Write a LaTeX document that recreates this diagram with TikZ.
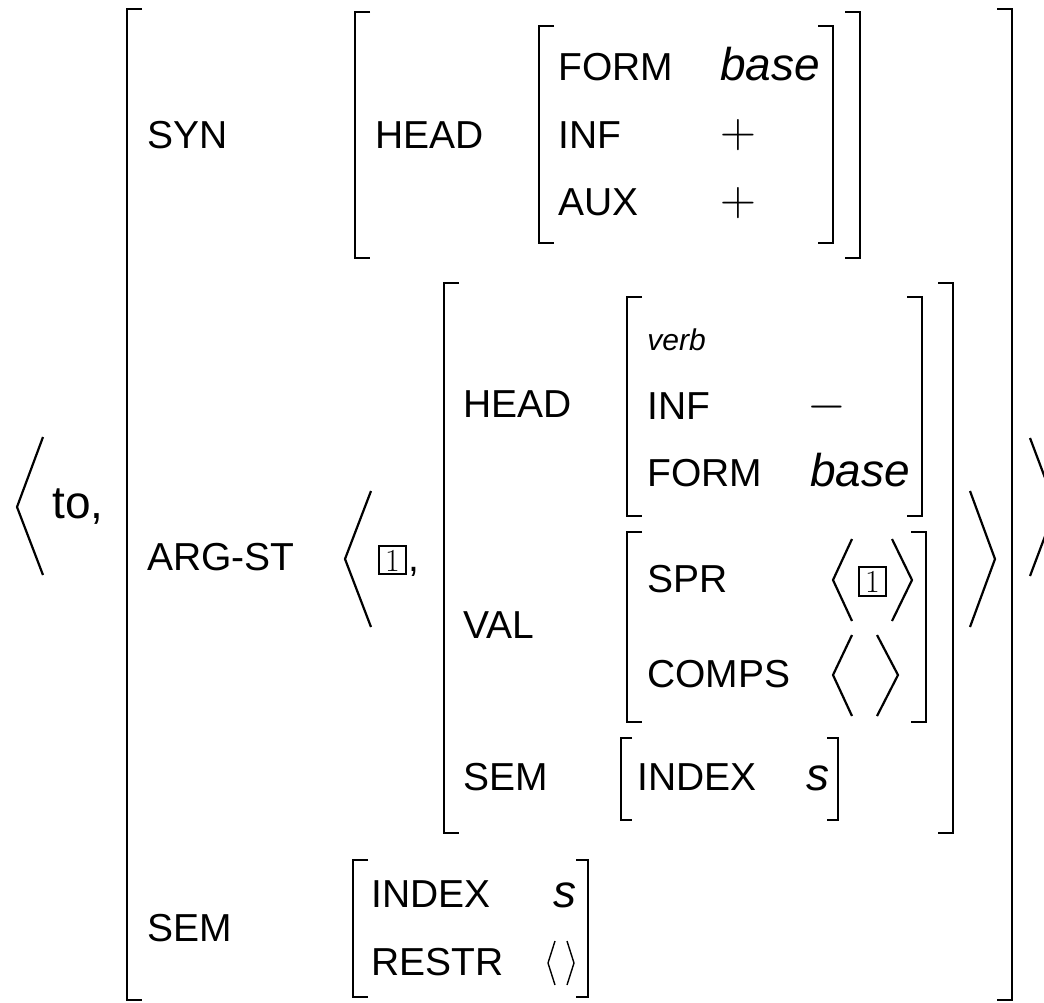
\documentclass[tikz,border=0pt]{standalone}
\usepackage{fontspec}
\setmainfont{Liberation Sans}
\newfontfamily\lmrfont{Latin Modern Roman}
\tikzset{
  lab/.style={anchor=base west, inner sep=0pt, font=\fontsize{19.5}{21}\selectfont},
  valit/.style={anchor=base west, inner sep=0pt, font=\fontsize{23}{25}\selectfont\itshape},
  valup/.style={anchor=base west, inner sep=0pt, font=\fontsize{23}{25}\selectfont},
  typ/.style={anchor=base west, inner sep=0pt, font=\fontsize{15}{16}\selectfont\itshape},
  sym/.style={anchor=center, inner sep=0pt, font=\fontsize{23}{25}\selectfont},
  tagdigit/.style={anchor=center, inner sep=0pt, font=\fontsize{16}{17}\selectfont\lmrfont},
  brk/.style={line width=1.4pt, line join=miter},
  sbrk/.style={line width=1.1pt, line join=miter},
  ang/.style={line width=1.1pt, line join=miter},
  tagbox/.style={line width=0.6pt},
}
\newcommand\avmL[4][brk]{\draw[#1] ({#2+15},#3) -- (#2,#3) -- (#2,#4) -- ({#2+15},#4);}
\newcommand\avmR[4][brk]{\draw[#1] ({#2-15},#3) -- (#2,#3) -- (#2,#4) -- ({#2-15},#4);}
\begin{document}
\begin{tikzpicture}[x=0.5pt,y=-0.5pt]
\useasboundingbox (0,0) rectangle (1044,1002);
\clip (0,0) rectangle (1044,1002);
% outer angle brackets
\draw[ang] (43,437) -- (17,507) -- (43,575);
\node[valup] (to) at (52,518) {to,};
\draw[ang] (1030,438) -- (1056,507) -- (1030,576);
% outer matrix
\avmL{127}{9}{1000}
\avmR{1012}{9}{1000}
\node[lab] (syn) at (147,148) {SYN};
\node[lab] (argst) at (147,570) {ARG-ST};
\node[lab] (sem) at (147,941) {SEM};
% SYN value
\avmL{355}{12}{258}
\avmR{860}{12}{258}
\node[lab] (synhead) at (375,148) {HEAD};
\avmL{539}{26}{243}
\avmR{833}{26}{243}
\node[lab] (form1) at (558,80) {FORM};
\node[valit] (base1) at (720,80) {base};
\node[lab] (inf1) at (558,148) {INF};
\node[sym] (plus1) at (738,135) {$+$};
\node[lab] (aux1) at (558,215) {AUX};
\node[sym] (plus2) at (738,203) {$+$};
% ARG-ST list
\draw[ang] (371,491) -- (345,559) -- (371,627);
\draw[tagbox] (379,546) rectangle (406,574);
\node[tagdigit] (tag1) at (392.5,560.5) {1};
\node[lab] (comma) at (408,571) {,};
\avmL{444}{283}{833}
\avmR{953}{283}{833}
\draw[ang] (970,491) -- (995,559) -- (970,627);
\node[lab] (ahead) at (463,417) {HEAD};
\avmL{627}{297}{516}
\avmR{922}{297}{516}
\node[typ] (verb) at (647,350) {verb};
\node[lab] (inf2) at (647,419) {INF};
\node[sym] (minus) at (827,407) {$-$};
\node[lab] (form2) at (647,486) {FORM};
\node[valit] (base2) at (810,486) {base};
\node[lab] (val) at (463,638) {VAL};
\avmL{627}{532}{722}
\avmR{926}{532}{722}
\node[lab] (spr) at (647,592) {SPR};
\draw[ang] (852,539) -- (833,580) -- (852,621);
\draw[tagbox] (859,567) rectangle (886,596);
\node[tagdigit] (tag2) at (872.5,581.5) {1};
\draw[ang] (892,539) -- (912,580) -- (892,621);
\node[lab] (comps) at (647,687) {COMPS};
\draw[ang] (852,635) -- (833,675) -- (852,716);
\draw[ang] (877,635) -- (898,675) -- (877,716);
\node[lab] (asem) at (463,790) {SEM};
\draw[sbrk] (632,738) -- (621,738) -- (621,820) -- (632,820);
\draw[sbrk] (827,738) -- (838,738) -- (838,820) -- (827,820);
\node[lab] (aindex) at (637,790) {INDEX};
\node[valit] (as) at (806,790) {s};
% SEM value
\avmL{353}{860}{997}
\draw[brk] (576,860) -- (588,860) -- (588,997) -- (576,997);
\node[lab] (index) at (371,907) {INDEX};
\node[valit] (s) at (553,907) {s};
\node[lab] (restr) at (371,975) {RESTR};
\draw[line width=0.7pt] (555,941) -- (548,963) -- (555,985);
\draw[line width=0.7pt] (567,941) -- (574,963) -- (567,985);
\end{tikzpicture}
\end{document}
